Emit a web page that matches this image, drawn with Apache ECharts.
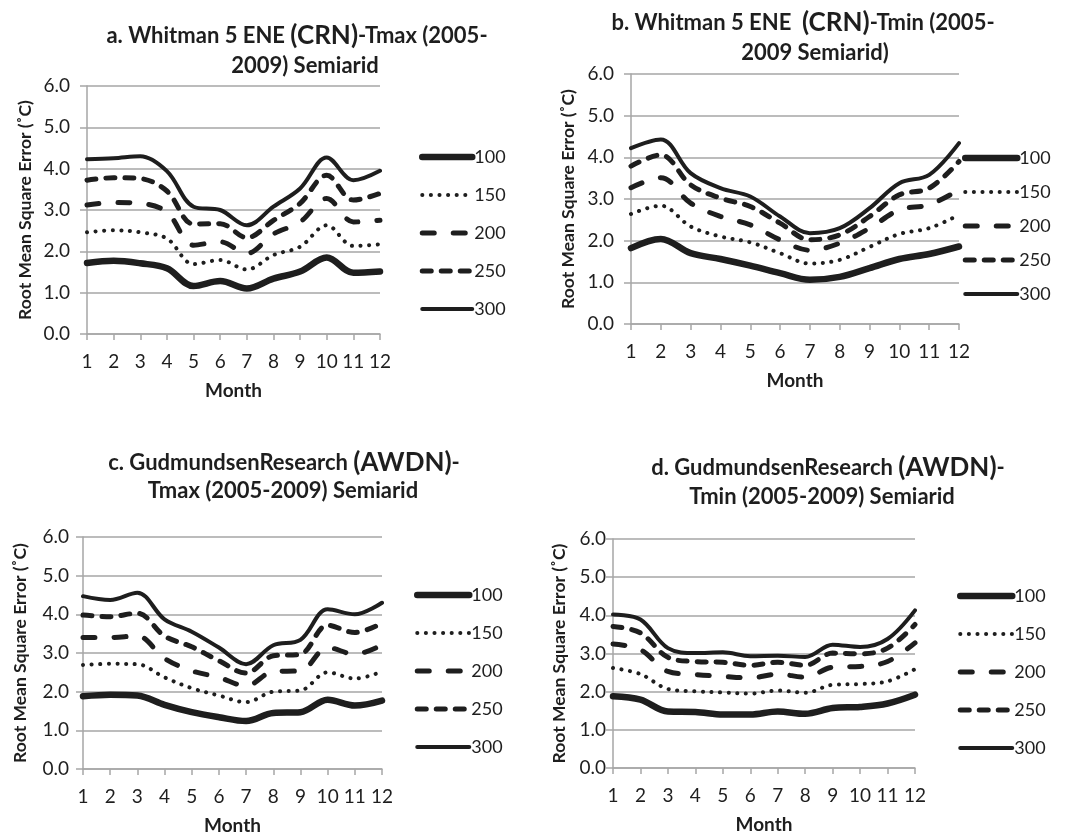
<!DOCTYPE html>
<html>
<head>
<meta charset="utf-8">
<script src="https://cdn.jsdelivr.net/npm/echarts@6/dist/echarts.min.js"></script>
<style>
  html, body { margin: 0; padding: 0; background: #ffffff; }
  #chart { width: 1065px; height: 836px; }
</style>
</head>
<body>
<div id="chart"></div>
<script>
// Months on the category axis
const months = ['1', '2', '3', '4', '5', '6', '7', '8', '9', '10', '11', '12'];
// Legend entries (window sizes)
const seriesNames = ['100', '150', '200', '250', '300'];

// a. Whitman 5 ENE (CRN) - Tmax
const whitmanTmax100 = [1.72, 1.77, 1.71, 1.59, 1.16, 1.28, 1.10, 1.34, 1.51, 1.85, 1.48, 1.51];
const whitmanTmax150 = [2.46, 2.51, 2.46, 2.31, 1.69, 1.79, 1.56, 1.91, 2.11, 2.63, 2.13, 2.17];
const whitmanTmax200 = [3.12, 3.18, 3.16, 2.95, 2.15, 2.23, 1.95, 2.42, 2.71, 3.28, 2.71, 2.75];
const whitmanTmax250 = [3.72, 3.78, 3.76, 3.46, 2.66, 2.67, 2.33, 2.75, 3.16, 3.84, 3.24, 3.40];
const whitmanTmax300 = [4.23, 4.25, 4.30, 3.94, 3.08, 3.00, 2.63, 3.08, 3.52, 4.27, 3.72, 3.95];

// b. Whitman 5 ENE (CRN) - Tmin
const whitmanTmin100 = [1.82, 2.04, 1.70, 1.56, 1.40, 1.22, 1.06, 1.13, 1.34, 1.56, 1.68, 1.86];
const whitmanTmin150 = [2.64, 2.84, 2.34, 2.10, 1.96, 1.70, 1.45, 1.54, 1.85, 2.16, 2.30, 2.62];
const whitmanTmin200 = [3.27, 3.51, 2.90, 2.58, 2.38, 2.02, 1.77, 1.94, 2.30, 2.74, 2.86, 3.22];
const whitmanTmin250 = [3.79, 4.06, 3.34, 3.02, 2.82, 2.42, 2.02, 2.14, 2.58, 3.10, 3.26, 3.90];
const whitmanTmin300 = [4.22, 4.43, 3.62, 3.26, 3.06, 2.58, 2.18, 2.30, 2.78, 3.38, 3.58, 4.34];

// c. GudmundsenResearch (AWDN) - Tmax
const gudmundsenTmax100 = [1.88, 1.92, 1.90, 1.66, 1.47, 1.34, 1.24, 1.45, 1.47, 1.79, 1.64, 1.77];
const gudmundsenTmax150 = [2.69, 2.72, 2.71, 2.37, 2.09, 1.90, 1.73, 2.00, 2.03, 2.50, 2.34, 2.52];
const gudmundsenTmax200 = [3.40, 3.40, 3.44, 2.86, 2.54, 2.37, 2.15, 2.52, 2.54, 3.14, 2.97, 3.21];
const gudmundsenTmax250 = [3.98, 3.94, 4.03, 3.44, 3.16, 2.80, 2.48, 2.93, 2.97, 3.72, 3.53, 3.77];
const gudmundsenTmax300 = [4.47, 4.37, 4.56, 3.87, 3.55, 3.14, 2.71, 3.20, 3.34, 4.13, 4.00, 4.30];

// d. GudmundsenResearch (AWDN) - Tmin
const gudmundsenTmin100 = [1.88, 1.79, 1.48, 1.47, 1.40, 1.40, 1.48, 1.42, 1.57, 1.60, 1.69, 1.92];
const gudmundsenTmin150 = [2.62, 2.46, 2.07, 2.01, 1.98, 1.95, 2.03, 1.97, 2.18, 2.20, 2.27, 2.59];
const gudmundsenTmin200 = [3.25, 3.10, 2.53, 2.45, 2.40, 2.36, 2.46, 2.38, 2.64, 2.66, 2.79, 3.28];
const gudmundsenTmin250 = [3.71, 3.54, 2.90, 2.79, 2.77, 2.69, 2.77, 2.69, 3.01, 2.99, 3.14, 3.76];
const gudmundsenTmin300 = [4.02, 3.89, 3.14, 3.01, 3.03, 2.93, 2.94, 2.91, 3.23, 3.17, 3.38, 4.13];

const panelData = [
  [whitmanTmax100, whitmanTmax150, whitmanTmax200, whitmanTmax250, whitmanTmax300],
  [whitmanTmin100, whitmanTmin150, whitmanTmin200, whitmanTmin250, whitmanTmin300],
  [gudmundsenTmax100, gudmundsenTmax150, gudmundsenTmax200, gudmundsenTmax250, gudmundsenTmax300],
  [gudmundsenTmin100, gudmundsenTmin150, gudmundsenTmin200, gudmundsenTmin250, gudmundsenTmin300]
];

const INK = '#1e1e1e';
const GRID_GRAY = '#a6a6a6';
const FONT = 'Lato, "Open Sans", sans-serif';

// Line look for each window size
const lineStyles = [
  { width: 6.5, type: 'solid', cap: 'round' },
  { width: 4, type: [0.1, 8.5], cap: 'round' },
  { width: 5, type: [12, 19], cap: 'round' },
  { width: 5, type: [9, 10], cap: 'round' },
  { width: 4, type: 'solid', cap: 'round' }
];

// Panel placement
const panels = [
  { grid: { left: 87, top: 86, width: 293, height: 248 }, labelMargin: 17, nameGap: 53,
    legend: { left: 419, top: 147, itemGap: 18, itemWidth: 50 } },
  { grid: { left: 631, top: 74, width: 328, height: 250 }, labelMargin: 17, nameGap: 54,
    legend: { left: 962, top: 148, itemGap: 14, itemWidth: 52 } },
  { grid: { left: 83, top: 537, width: 299, height: 233 }, labelMargin: 14, nameGap: 54,
    legend: { left: 414, top: 585, itemGap: 18, itemWidth: 52 } },
  { grid: { left: 613, top: 539, width: 302, height: 229 }, labelMargin: 7, nameGap: 45,
    legend: { left: 957, top: 586, itemGap: 18, itemWidth: 52 } }
];

// Two-line panel headings; the network name is set a size larger
const headingLines = [
  { x: 297, y: 23, text: '{b|a. Whitman 5 ENE }{big|(CRN)}{b|-Tmax (2005-}' },
  { x: 305, y: 53, text: '{b|2009) Semiarid}' },
  { x: 803, y: 10, text: '{b|b. Whitman 5 ENE  }{big|(CRN)}{b|-Tmin (2005-}' },
  { x: 815, y: 40, text: '{b|2009 Semiarid)}' },
  { x: 284, y: 450, text: '{b|c. GudmundsenResearch }{big|(AWDN)}{b|-}' },
  { x: 283, y: 478, text: '{b|Tmax (2005-2009) Semiarid}' },
  { x: 828, y: 455, text: '{b|d. GudmundsenResearch }{big|(AWDN)}{b|-}' },
  { x: 822, y: 484, text: '{b|Tmin (2005-2009) Semiarid}' }
];

const titles = headingLines.map(h => ({
  text: h.text,
  left: h.x,
  top: h.y,
  textAlign: 'center',
  padding: 0,
  textStyle: {
    rich: {
      b: { fontFamily: FONT, fontWeight: 'bold', fontSize: 22, color: INK, lineHeight: 26 },
      big: { fontFamily: FONT, fontWeight: 'bold', fontSize: 26, color: INK, lineHeight: 26 }
    }
  }
}));

const grids = [], xAxes = [], yAxes = [], legends = [], series = [];

panels.forEach((p, i) => {
  grids.push(Object.assign({ containLabel: false }, p.grid));
  xAxes.push({
    type: 'category',
    gridIndex: i,
    data: months,
    boundaryGap: false,
    name: 'Month',
    nameLocation: 'middle',
    nameGap: 47,
    nameTextStyle: { fontFamily: FONT, fontWeight: 'bold', fontSize: 19, color: INK },
    axisLine: { show: true, lineStyle: { color: GRID_GRAY, width: 1.5 } },
    axisTick: { show: true, length: 6, lineStyle: { color: GRID_GRAY, width: 1.5 } },
    axisLabel: { margin: 18, fontFamily: FONT, fontSize: 19, color: INK, interval: 0 },
    splitLine: { show: false }
  });
  yAxes.push({
    type: 'value',
    gridIndex: i,
    min: 0,
    max: 6,
    interval: 1,
    name: 'Root Mean Square Error (˚C)',
    nameLocation: 'middle',
    nameGap: p.nameGap,
    nameTextStyle: { fontFamily: FONT, fontWeight: 'bold', fontSize: 17.5, color: INK },
    axisLine: { show: true, lineStyle: { color: GRID_GRAY, width: 1.5 } },
    axisTick: { show: true, length: 7, lineStyle: { color: GRID_GRAY, width: 1.5 } },
    axisLabel: {
      margin: p.labelMargin, fontFamily: FONT, fontSize: 19, color: INK,
      formatter: v => v.toFixed(1)
    },
    splitLine: { show: true, lineStyle: { color: GRID_GRAY, width: 1.5 } }
  });
  legends.push({
    orient: 'vertical',
    left: p.legend.left,
    top: p.legend.top,
    itemGap: p.legend.itemGap,
    itemWidth: p.legend.itemWidth,
    itemHeight: 20,
    padding: 0,
    data: seriesNames,
    selectedMode: false,
    itemStyle: { opacity: 0 },
    lineStyle: { width: 'inherit' },
    textStyle: { fontFamily: FONT, fontSize: 18, color: INK, lineHeight: 20, padding: [0, 0, 0, -3] }
  });
  panelData[i].forEach((values, k) => {
    series.push({
      name: seriesNames[k],
      type: 'line',
      xAxisIndex: i,
      yAxisIndex: i,
      data: values,
      smooth: 0.35,
      symbol: 'none',
      silent: true,
      lineStyle: Object.assign({ color: INK }, lineStyles[k]),
      itemStyle: { color: INK },
      z: 10 - k
    });
  });
});

const chart = echarts.init(document.getElementById('chart'), null, { renderer: 'canvas' });
chart.setOption({
  backgroundColor: '#ffffff',
  animation: false,
  title: titles,
  grid: grids,
  xAxis: xAxes,
  yAxis: yAxes,
  legend: legends,
  series: series
});
</script>
</body>
</html>
